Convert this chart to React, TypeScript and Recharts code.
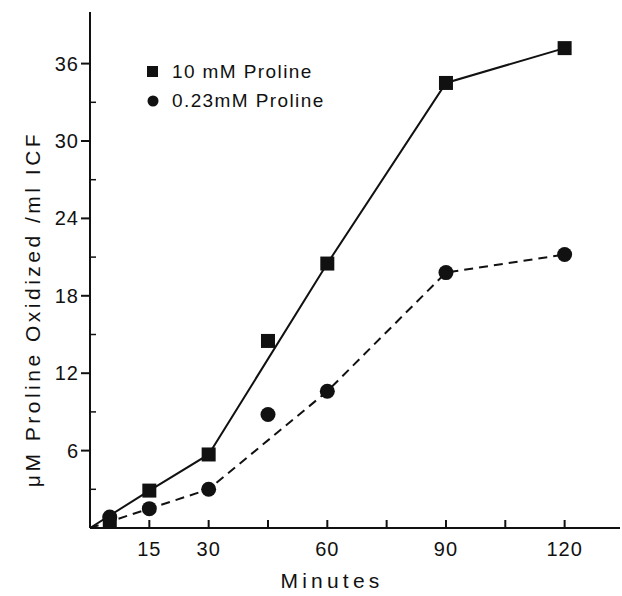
import {
  ComposedChart, Line, Scatter, XAxis, YAxis,
} from 'recharts'

const minutes = [5, 15, 30, 45, 60, 90, 120]
const proline10 = [0.5, 2.9, 5.7, 14.5, 20.5, 34.5, 37.2]
const proline023 = [0.85, 1.5, 3.0, 8.8, 10.6, 19.8, 21.2]
// the drawn lines start at the origin and skip the 5 and 45 min points
const lineMinutes = [0, 15, 30, 60, 90, 120]

const xTicks = [15, 30, 45, 60, 75, 90, 105, 120]
const xLabels = [15, 30, 60, 90, 120]
const yTicks = [3, 6, 9, 12, 15, 18, 21, 24, 27, 30, 33, 36]

const FONT = '"Liberation Sans", Arial, sans-serif'
const INK = '#111'

const points = (vals: number[]) => minutes.map((m, i) => ({ x: m, y: vals[i] }))
const linePts = (vals: number[]) =>
  lineMinutes.map((m) => ({ x: m, y: m === 0 ? 0 : vals[minutes.indexOf(m)] }))

function XTick(props: any) {
  const { x, y, payload } = props
  const v = payload.value
  return (
    <g>
      <line x1={x} x2={x} y1={y} y2={y - 8} stroke={INK} strokeWidth={2} />
      {xLabels.includes(v) && (
        <text x={x} y={y + 28} textAnchor="middle" fontSize={20} letterSpacing={1} fill={INK} fontFamily={FONT}>
          {v}
        </text>
      )}
    </g>
  )
}

function YTick(props: any) {
  const { x, y, payload } = props
  const v = payload.value
  const major = v % 6 === 0
  return (
    <g>
      {major ? (
        <>
          <line x1={x - 9} x2={x} y1={y} y2={y} stroke={INK} strokeWidth={2} />
          <text x={x - 11} y={y + 7} textAnchor="end" fontSize={20} letterSpacing={1} fill={INK} fontFamily={FONT}>
            {v}
          </text>
        </>
      ) : (
        <line x1={x} x2={x + 6} y1={y} y2={y} stroke={INK} strokeWidth={1.5} />
      )}
    </g>
  )
}

const Square = (p: any) => <rect x={p.cx - 7} y={p.cy - 7} width={14} height={14} fill={INK} />
const Dot = (p: any) => <circle cx={p.cx} cy={p.cy} r={7.5} fill={INK} />

const legendItems = [
  { name: '10 mM Proline', shape: 'square' },
  { name: '0.23mM Proline', shape: 'circle' },
]

function LegendBox() {
  return (
    <div
      style={{
        position: 'absolute', left: 147, top: 57,
        fontFamily: FONT, fontSize: 19, color: INK, lineHeight: '29px', whiteSpace: 'nowrap',
      }}
    >
      {legendItems.map((it) => (
        <div key={it.name} style={{ display: 'flex', alignItems: 'center' }}>
          <svg width={12} height={12}>
            {it.shape === 'square'
              ? <rect width={11} height={11} fill={INK} />
              : <circle cx={6} cy={6} r={5.5} fill={INK} />}
          </svg>
          <span style={{ marginLeft: 13, letterSpacing: 1.4 }}>{it.name}</span>
        </div>
      ))}
    </div>
  )
}

export default function App() {
  return (
    <div style={{ position: 'absolute', left: 0, top: 0, width: 622, height: 596, background: '#fff' }}>
      <ComposedChart width={622} height={596} margin={{ top: 12, right: 2, bottom: 28, left: 0 }}>
        <XAxis
          type="number"
          dataKey="x"
          domain={[0, 134]}
          ticks={xTicks}
          interval={0}
          tickSize={0}
          tickMargin={0}
          tickLine={false}
          tick={<XTick />}
          height={40}
          axisLine={{ stroke: INK, strokeWidth: 2 }}
          label={{
            content: () => (
              <text
                x={332}
                y={588}
                textAnchor="middle"
                fontSize={21}
                letterSpacing={4.2}
                fill={INK}
                fontFamily={FONT}
              >
                Minutes
              </text>
            ),
          }}
        />
        <YAxis
          type="number"
          dataKey="y"
          domain={[0, 40]}
          ticks={yTicks}
          interval={0}
          width={90}
          tickSize={0}
          tickMargin={0}
          tickLine={false}
          tick={<YTick />}
          axisLine={{ stroke: INK, strokeWidth: 2 }}
          label={{
            content: () => (
              <text
                x={32}
                y={309}
                transform="rotate(-90 32 309)"
                textAnchor="middle"
                dominantBaseline="central"
                fontSize={21}
                letterSpacing={3.5}
                fill={INK}
                fontFamily={FONT}
              >
                μM Proline Oxidized /ml ICF
              </text>
            ),
          }}
        />
        <Line
          data={linePts(proline10)}
          dataKey="y"
          stroke={INK}
          strokeWidth={2}
          dot={false}
          isAnimationActive={false}
        />
        <Line
          data={linePts(proline023)}
          dataKey="y"
          stroke={INK}
          strokeWidth={2}
          strokeDasharray="9 6"
          dot={false}
          isAnimationActive={false}
        />
        <Scatter data={points(proline10)} dataKey="y" shape={Square} isAnimationActive={false} />
        <Scatter data={points(proline023)} dataKey="y" shape={Dot} isAnimationActive={false} />
      </ComposedChart>
      <LegendBox />
    </div>
  )
}
